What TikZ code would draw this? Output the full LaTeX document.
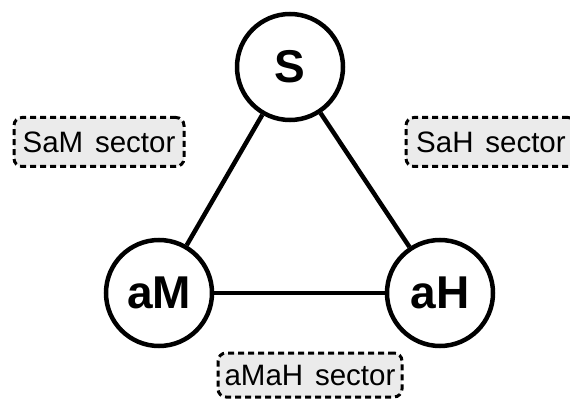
\documentclass[tikz,border=0pt]{standalone}
\usepackage{fontspec}
\setmainfont{Liberation Sans}
\definecolor{boxfill}{RGB}{235,235,235}
\begin{document}
\begin{tikzpicture}[x=1pt,y=-1pt,
  state/.style={circle,draw=black,line width=4.5pt,minimum size=106pt,inner sep=0pt,font=\fontsize{46}{52}\selectfont\bfseries},
  sector/.style={draw=black,fill=boxfill,rounded corners=8pt,line width=3pt,dash pattern=on 6pt off 4pt,inner sep=0pt,font=\fontsize{29.5}{34}\selectfont},
  edge/.style={line width=4.5pt}]
\useasboundingbox (0,0) rectangle (570,403);
\node[state] (S) at (290,67) {S};
\node[state] (aM) at (159,293) {aM};
\node[state] (aH) at (440,293) {aH};
\draw[edge] (S) -- (aM);
\draw[edge] (S) -- (aH);
\draw[edge] (aM) -- (aH);
\node[sector,minimum width=170pt,minimum height=49pt] (sam) at (99,142) {SaM\hspace{0.4em}sector};
\node[sector,minimum width=170pt,minimum height=49pt] (sah) at (491,142) {SaH\hspace{0.4em}sector};
\node[sector,minimum width=184pt,minimum height=44pt] (samah) at (310,375) {aMaH\hspace{0.4em}sector};
\end{tikzpicture}
\end{document}
